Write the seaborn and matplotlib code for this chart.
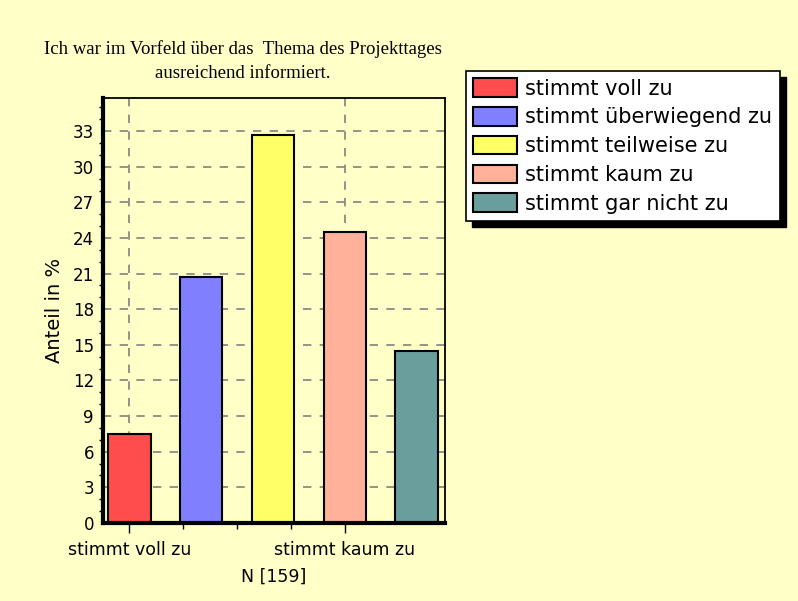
import matplotlib
matplotlib.use("Agg")
import matplotlib.pyplot as plt
import seaborn as sns
import pandas as pd
from matplotlib.patches import Patch, Rectangle
from matplotlib.ticker import MultipleLocator, FixedLocator

# donnees (N = 159)
kategorien = ["stimmt voll zu", "stimmt überwiegend zu", "stimmt teilweise zu",
              "stimmt kaum zu", "stimmt gar nicht zu"]
anteile = [7.5, 20.75, 32.7, 24.5, 14.5]
farben = ["#FF4C4C", "#8080FF", "#FFFF66", "#FFB299", "#6A9E9C"]
xtick_labels = ["stimmt voll zu", "stimmt kaum zu"]
titel = "Ich war im Vorfeld über das  Thema des Projekttages\nausreichend informiert."

bg = "#FFFFC8"
sns.set_style("white")
plt.rcParams["font.family"] = ["DejaVu Sans"]
plt.rcParams["text.color"] = "black"
plt.rcParams["axes.labelcolor"] = "black"
plt.rcParams["xtick.color"] = "black"
plt.rcParams["ytick.color"] = "black"

df = pd.DataFrame({"kategorie": kategorien, "anteil": anteile})

fig = plt.figure(figsize=(7.98, 6.01), dpi=100, facecolor=bg)
ax = fig.add_axes([0.129, 0.13, 0.429, 0.707])
ax.set_facecolor(bg)

sns.barplot(data=df, x="kategorie", y="anteil", hue="kategorie", palette=farben,
            width=0.59, edgecolor="black", linewidth=1.5, saturation=1,
            legend=False, ax=ax, zorder=3)

ax.set_xlim(-0.37, 4.4)
ax.set_ylim(0, 35.8)
ax.yaxis.set_major_locator(MultipleLocator(3))
ax.yaxis.set_minor_locator(MultipleLocator(1))
ax.xaxis.set_major_locator(FixedLocator([0, 3]))
ax.xaxis.set_minor_locator(FixedLocator([0.75, 1.5, 2.25]))
ax.set_xticklabels(xtick_labels, fontsize=12.5)
ax.tick_params(axis="y", which="major", direction="inout", length=9, width=1,
               labelsize=12, pad=2)
ax.tick_params(axis="y", which="minor", direction="out", length=3, width=1, left=True)
ax.tick_params(axis="x", which="major", direction="out", length=7, width=1,
               labelsize=12.5, pad=6, bottom=True)
ax.tick_params(axis="x", which="minor", direction="out", length=4, width=1, bottom=True)

ax.grid(True, which="major", color="#808080", linestyle=(0, (5, 5)), linewidth=1.2, zorder=0)
ax.set_axisbelow(True)

for side in ["top", "right"]:
    ax.spines[side].set_linewidth(1.3)
for side in ["left", "bottom"]:
    ax.spines[side].set_linewidth(3)
for s in ax.spines.values():
    s.set_color("black")
    s.set_zorder(5)

ax.set_ylabel("Anteil in %", fontsize=14, labelpad=6)
ax.set_xlabel("N [159]", fontsize=12.5, labelpad=6)
fig.text(243 / 798, 1 - 61 / 601, titel, family=["Liberation Serif"], fontsize=13.5,
         ha="center", va="center", linespacing=1.5)

# legende avec ombre noire
handles = [Patch(facecolor=c, edgecolor="black", linewidth=1.5) for c in farben]
leg = fig.legend(handles, kategorien, loc="upper left", bbox_to_anchor=(0.584, 0.882),
                 frameon=True, fancybox=False, edgecolor="black", facecolor="white",
                 framealpha=1, fontsize=15, handlelength=2.1, handleheight=1.0,
                 handletextpad=0.4, labelspacing=0.4, borderpad=0.35, borderaxespad=0)
leg.get_frame().set_linewidth(1.2)
fig.canvas.draw()
bb = leg.get_window_extent().transformed(fig.transFigure.inverted())
dx, dy = 6 / 798, 6 / 601
fig.patches.append(Rectangle((bb.x0 + dx, bb.y0 - dy), bb.width, bb.height,
                             transform=fig.transFigure, facecolor="black",
                             edgecolor="black", zorder=leg.get_zorder() - 1))

fig.savefig("out.png", dpi=100, facecolor=bg)
